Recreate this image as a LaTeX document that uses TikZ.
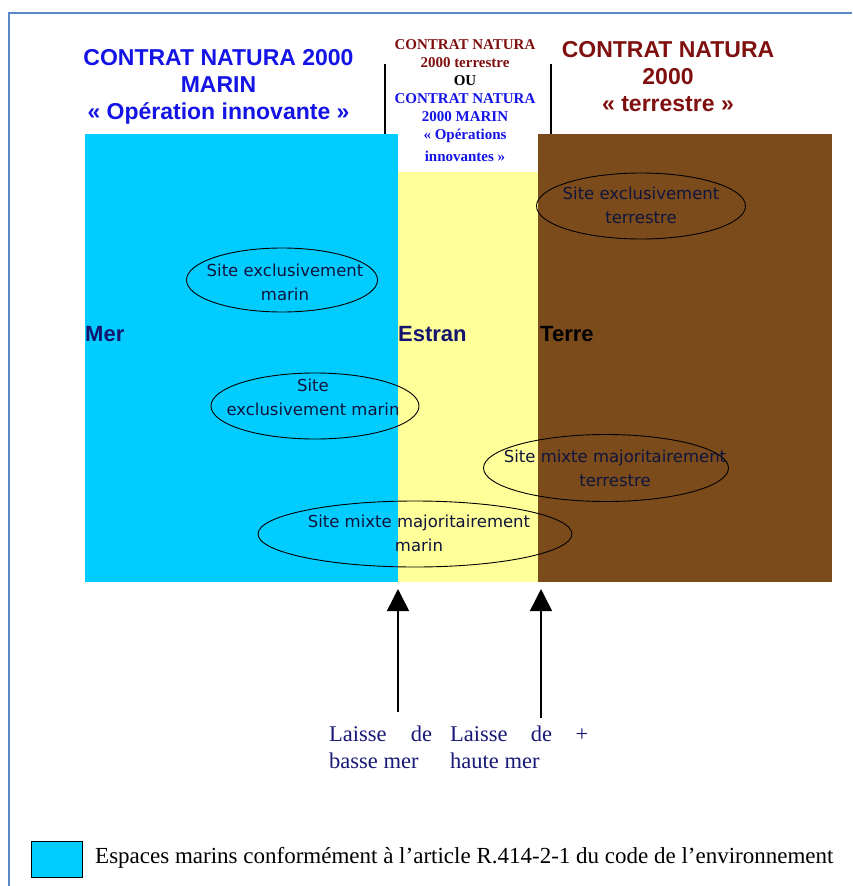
\documentclass[tikz,border=0pt]{standalone}
\usepackage{fontspec}
\setmainfont{Liberation Serif}
\newfontfamily\arialf{Liberation Sans}
\newfontfamily\verdf{DejaVu Sans}
\usetikzlibrary{arrows.meta,shapes.geometric}
\definecolor{framec}{RGB}{90,135,197}
\definecolor{merc}{RGB}{0,204,255}
\definecolor{estranc}{RGB}{255,255,153}
\definecolor{terrec}{RGB}{123,75,28}
\definecolor{titleblue}{RGB}{20,20,230}
\definecolor{titlered}{RGB}{128,16,16}
\definecolor{navyc}{RGB}{20,20,110}
\definecolor{sitetext}{RGB}{15,20,60}
\definecolor{laissec}{RGB}{25,25,120}
\tikzset{
 zone/.style={draw=none, inner sep=0pt, outer sep=0pt, rectangle, anchor=north west},
 site/.style={draw=black, line width=0.9pt, ellipse, inner sep=0pt},
 sitetxt/.style={font=\verdf\fontsize{16.5}{24}\selectfont, text=sitetext, align=center, inner sep=0pt},
 bigtitle/.style={font=\arialf\bfseries\fontsize{23}{27}\selectfont, align=center, inner sep=0pt},
 midtitle/.style={font=\bfseries\fontsize{15}{18}\selectfont, align=center, inner sep=0pt},
 zonelab/.style={font=\arialf\bfseries\fontsize{22}{26}\selectfont, inner sep=0pt, anchor=west},
 laisse/.style={font=\fontsize{22.5}{27}\selectfont, text=laissec, align=left, inner sep=0pt, anchor=north west},
 tickline/.style={line width=2pt, black},
 bigarrow/.style={line width=1.5pt, -{Triangle[width=22pt,length=22pt]}},
}
\begin{document}
\begin{tikzpicture}[x=1pt,y=-1pt]
\useasboundingbox (0,0) rectangle (852,886);
\fill[white] (0,0) rectangle (852,886);
% frame
\draw[framec, line width=2pt] (9,886) -- (9,13) -- (852,13);
% zones
\node[zone, fill=merc, minimum width=313pt, minimum height=448pt] (mer) at (85,134) {};
\node[zone, fill=estranc, minimum width=140pt, minimum height=410pt] (estran) at (398,172) {};
\node[zone, fill=terrec, minimum width=294pt, minimum height=448pt] (terre) at (538,134) {};
% ticks
\coordinate (k1a) at (385,64); \coordinate (k1b) at (385,134);
\coordinate (k2a) at (551,64); \coordinate (k2b) at (551,134);
\draw[tickline] (k1a) -- (k1b);
\draw[tickline] (k2a) -- (k2b);
% titles
\node[bigtitle, text=titleblue] (tl) at (218.5,86.4) {CONTRAT NATURA 2000\\MARIN\\« Opération innovante »};
\node[bigtitle, text=titlered] (tr) at (668,77) {CONTRAT NATURA\\2000\\« terrestre »};
\node[midtitle] (tm) at (465,101) {\textcolor{titlered}{CONTRAT NATURA}\\\textcolor{titlered}{2000 terrestre}\\OU\\\textcolor{titleblue}{CONTRAT NATURA}\\\textcolor{titleblue}{2000 MARIN}\\\textcolor{titleblue}{« Opérations}\\[4pt]\textcolor{titleblue}{innovantes »}};
% zone labels
\node[zonelab, text=navyc] (lmer) at (85,334) {Mer};
\node[zonelab, text=navyc] (lestran) at (398,334) {Estran};
\node[zonelab, text=black] (lterre) at (540,334) {Terre};
% ellipses
\node[site, minimum width=191pt, minimum height=64pt] (e1) at (282,280) {};
\node[site, minimum width=208pt, minimum height=66pt] (e2) at (315,406) {};
\node[site, minimum width=209pt, minimum height=66pt] (e3) at (641,206) {};
\node[site, minimum width=245pt, minimum height=67pt] (e4) at (606,468) {};
\node[site, minimum width=314pt, minimum height=66pt] (e5) at (415,534) {};
\node[sitetxt] (t1) at (285,282) {Site exclusivement\\marin};
\node[sitetxt] (t2) at (313,397) {Site\\exclusivement marin};
\node[sitetxt] (t3) at (641,205) {Site exclusivement\\terrestre};
\node[sitetxt] (t4) at (615,468) {Site mixte majoritairement\\terrestre};
\node[sitetxt] (t5) at (419,533) {Site mixte majoritairement\\marin};
% arrows
\coordinate (a1s) at (398,712); \coordinate (a1e) at (398,589);
\coordinate (a2s) at (541,718); \coordinate (a2e) at (541,589);
\draw[bigarrow] (a1s) -- (a1e);
\draw[bigarrow] (a2s) -- (a2e);
% bottom labels
\node[laisse] (lb) at (329,726) {\makebox[103pt][s]{Laisse de}\\basse mer};
\node[laisse] (lh) at (450,726) {\makebox[138pt][s]{Laisse de +}\\haute mer};
% legend
\node[draw=black, line width=1.2pt, fill=merc, minimum width=51pt, minimum height=36pt, anchor=north west, inner sep=0pt] (leg) at (31,841) {};
\node[anchor=west, inner sep=0pt, font=\fontsize{23}{27}\selectfont] (legt) at (95,858) {Espaces marins conformément à l’article R.414-2-1 du code de l’environnement};
\end{tikzpicture}
\end{document}
